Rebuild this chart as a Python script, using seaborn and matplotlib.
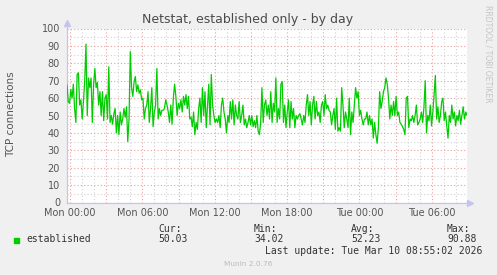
import numpy as np
import pandas as pd
import matplotlib
matplotlib.use("Agg")
import matplotlib.pyplot as plt
import seaborn as sns
from matplotlib.ticker import FixedLocator, MultipleLocator, FuncFormatter

# ---------------- data ----------------
title = "Netstat, established only - by day"
ylabel = "TCP connections"
series_name = "established"
start_hour = -0.25          # hours relative to Mon 00:00
end_hour = 32.92            # Tue 08:55
day_names = ["Mon", "Tue"]
tick_hours = [0, 6, 12, 18, 24, 30]

established = [
    67.6, 58, 57, 65, 60, 68, 54, 46, 73.6, 74.5, 56, 59, 48, 58, 70, 91, 50, 71.6, 66, 71.6,
    46, 68, 77, 66, 69, 56, 63.7, 50, 63.7, 47, 60, 62, 48, 78, 46, 50, 45, 51, 54, 40,
    50, 39, 52, 44.6, 48, 54, 49, 55, 35, 48, 86.7, 66, 61, 69.5, 72.4, 63.7, 67.6, 62.8, 64.7, 59,
    60, 48, 54, 56, 63.7, 46, 54, 66, 43.6, 52, 56, 77, 48, 54, 50, 53, 53, 54, 59, 56,
    52, 46, 56, 45, 60, 68, 61, 50, 57, 54, 59, 52, 61, 56, 62, 54, 61, 48, 49, 43.6,
    52, 39, 46, 42, 54, 60, 46, 66, 50, 63.7, 43, 56, 68, 44.6, 73.5, 56, 50, 46, 48, 46,
    50, 43, 56, 60, 52, 48, 40, 50, 46, 58, 48, 59, 44.6, 56, 50, 48, 58, 46, 50, 56,
    44.6, 48, 43, 46, 50, 44.6, 50, 43.6, 47, 43, 50, 41, 39, 46, 66, 46, 56, 59, 50, 56,
    48, 63.7, 46, 57, 52, 71.6, 46, 54, 48, 68, 69.5, 46, 56, 43, 52, 59, 43, 58, 48, 54,
    43, 50, 48, 50, 51, 48, 44.6, 50, 46, 56, 62, 50, 58, 44.6, 56, 61, 48, 58, 50, 52,
    46, 56, 58, 50, 62, 54, 56, 53, 52, 44.6, 50, 54, 42, 60, 41, 43, 41, 66, 56, 43,
    52, 48, 43, 60, 39, 52, 46, 56, 66, 60, 63.7, 50, 53, 48, 44.6, 48, 48, 52, 44.6, 50,
    44.6, 48, 37, 46, 39, 34.02, 43, 63.7, 54, 58, 63.7, 66, 71.6, 68, 60, 48, 56, 50, 58, 50,
    61, 50, 52, 46, 45, 43.6, 42, 39, 60, 61, 43, 48, 47, 50, 46, 50, 56, 44.6, 46, 48,
    52, 46, 55, 70, 40, 50, 47, 56, 44, 52, 62, 73, 48, 55, 46, 50, 58, 60, 47, 52,
    44, 37, 50, 46, 56, 48, 52, 44, 50, 47, 53, 45, 50, 55, 48, 52, 50.03,
]
stat_names = ["Cur:", "Min:", "Avg:", "Max:"]
stat_values = ["50.03", "34.02", "52.23", "90.88"]
last_update = "Last update: Tue Mar 10 08:55:02 2026"
footer = "Munin 2.0.76"
side_text = "RRDTOOL / TOBI OETIKER"

# ---------------- styling ----------------
W, H = 497, 275
GREEN = "#00cc00"
BG = "#f0f0f0"
AXC = "#c4c4ee"
TXT = "#555555"
MAJ = "#eaa0a0"
MIN = "#d2d2d2"

sns.set_theme(style="white")
plt.rcParams["font.family"] = ["DejaVu Sans"]

def fx(x):
    return x / W

def fy(y):
    return 1 - y / H

hours = np.linspace(start_hour, end_hour, len(established))
df = pd.DataFrame({"hour": hours, "conn": established})

fig = plt.figure(figsize=(W / 100, H / 100), dpi=100, facecolor=BG)
ax = fig.add_axes([fx(67), fy(202.5), 400 / W, 174 / H])
ax.set_facecolor("white")

sns.lineplot(data=df, x="hour", y="conn", color=GREEN, lw=0.9, ax=ax, zorder=3)

ax.set_xlim(start_hour, end_hour)
ax.set_ylim(0, 100)

ax.xaxis.set_major_locator(FixedLocator(list(range(0, 33, 3))))
ax.xaxis.set_minor_locator(MultipleLocator(1))
def xfmt(v, pos):
    h = int(round(v))
    if h % 6:
        return ""
    return f"{day_names[h // 24]} {h % 24:02d}:00"
ax.xaxis.set_major_formatter(FuncFormatter(xfmt))
ax.yaxis.set_major_locator(MultipleLocator(10))
ax.yaxis.set_minor_locator(MultipleLocator(5))

ax.grid(which="major", color=MAJ, linestyle=(0, (1, 2)), linewidth=0.8)
ax.grid(which="minor", color=MIN, linestyle=(0, (1, 2)), linewidth=0.8)
ax.set_axisbelow(True)

for s in ["top", "right"]:
    ax.spines[s].set_visible(False)
for s in ["left", "bottom"]:
    ax.spines[s].set_color(AXC)
    ax.spines[s].set_linewidth(0.9)

ax.tick_params(axis="x", which="major", length=2, color=MAJ, labelsize=7, labelcolor=TXT, pad=2)
ax.tick_params(axis="x", which="minor", length=0)
ax.tick_params(axis="y", which="both", length=0, labelsize=7, labelcolor=TXT, pad=5)
ax.set_xlabel("")
ax.set_ylabel("")

# axis arrows
ax.plot([1.0075], [0], marker=">", color=AXC, ms=4, transform=ax.transAxes, clip_on=False)
ax.plot([0], [1.03], marker="^", color=AXC, ms=4, transform=ax.transAxes, clip_on=False)
ax.plot([0, 0], [1.0, 1.03], color=AXC, lw=0.9, transform=ax.transAxes, clip_on=False)

fig.text(fx(248), fy(19), title, ha="center", va="center", fontsize=9, color="#4a4a4a")
fig.text(fx(11), fy(114), ylabel, ha="center", va="center", rotation=90, fontsize=7.5, color=TXT)
fig.text(fx(488), fy(5), side_text, ha="center", va="top", rotation=270, fontsize=5.5, color="#c4c4c4")

mono = "DejaVu Sans Mono"
fig.patches.append(plt.Rectangle((fx(14), fy(242.5)), 5 / W, 5 / H, transform=fig.transFigure,
                                 color=GREEN, figure=fig))
fig.text(fx(26), fy(239.5), series_name, ha="left", va="center", fontsize=7, family=mono, color="#333333")
for name, val, x in zip(stat_names, stat_values, [158, 254, 351, 447]):
    fig.text(fx(x), fy(228.5), name, ha="left", va="center", fontsize=7, family=mono, color="#333333")
    fig.text(fx(x), fy(239.5), val, ha="left", va="center", fontsize=7, family=mono, color="#333333")
fig.text(fx(482.5), fy(251), last_update, ha="right", va="center", fontsize=7, family=mono, color="#333333")
fig.text(fx(248), fy(264), footer, ha="center", va="center", fontsize=5.3, color="#bbbbbb")

fig.savefig("out.png", dpi=100, facecolor=BG)
